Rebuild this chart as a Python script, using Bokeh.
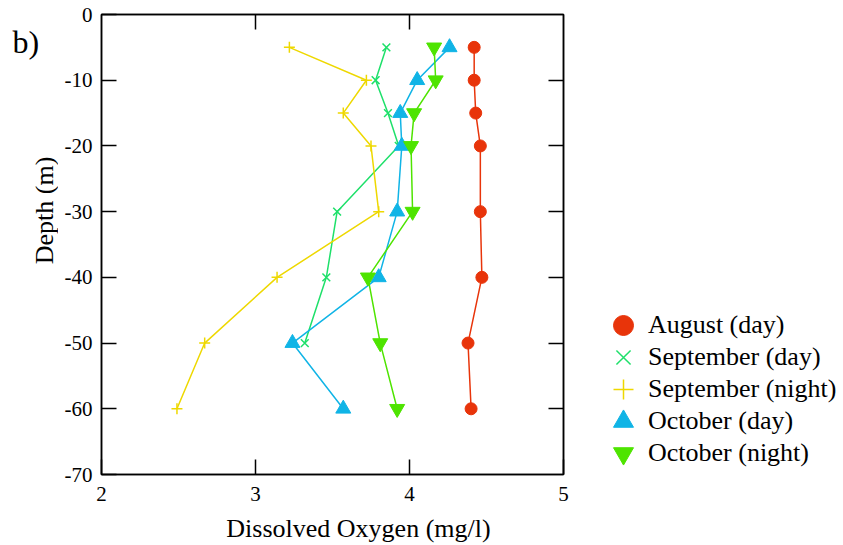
import math
from bokeh.plotting import figure
from bokeh.layouts import row, column
from bokeh.models import (Range1d, LinearAxis, FixedTicker, Legend, LegendItem, Label)
from bokeh.embed import file_html
from bokeh.resources import INLINE

depth = [-5, -10, -15, -20, -30, -40, -50, -60]
aug_day = [4.42, 4.42, 4.43, 4.46, 4.46, 4.47, 4.38, 4.40]
sep_day_depth = [-5, -10, -15, -20, -30, -40, -50]
sep_day = [3.85, 3.78, 3.86, 3.93, 3.53, 3.46, 3.32]
sep_night = [3.22, 3.72, 3.57, 3.75, 3.80, 3.14, 2.67, 2.49]
oct_day = [4.26, 4.05, 3.94, 3.95, 3.92, 3.80, 3.24, 3.57]
oct_night = [4.16, 4.17, 4.03, 4.01, 4.02, 3.73, 3.81, 3.92]

series_names = ["August (day)", "September (day)", "September (night)",
                "October (day)", "October (night)"]
x_ticks = [2, 3, 4, 5]
y_ticks = [0, -10, -20, -30, -40, -50, -60, -70]

FONT = "Liberation Serif"
RED = "#e8340a"
SEPD = "#1ee06a"
SEPN = "#eed800"
OCTD = "#10b4e6"
OCTN = "#4ee400"

H = 512                       # height of the main row
HB = 33                       # height of the bottom strip with the x title
TOP, BOTTOM = 14, 38          # borders shared by all three panels in the row

# ---------- left strip: panel letter + y title ----------
p0 = figure(width=58, height=H, output_backend="svg", toolbar_location=None,
            x_range=Range1d(0, 58), y_range=Range1d(BOTTOM, H - TOP),
            x_axis_type=None, y_axis_type=None, min_border=0,
            min_border_top=TOP, min_border_bottom=BOTTOM)
p0.grid.visible = False
p0.outline_line_color = None
p0.add_layout(Label(x=12, y=H - 41, text="b)", text_font=FONT, text_font_size="32px",
                    text_baseline="middle", text_align="left", text_color="black"))
p0.add_layout(Label(x=44, y=H - 210, text="Depth (m)", angle=math.pi / 2,
                    text_font=FONT, text_font_size="26px",
                    text_baseline="middle", text_align="center", text_color="black"))

# ---------- main plot ----------
p = figure(width=527, height=H, output_backend="svg", toolbar_location=None,
           x_range=Range1d(2, 5), y_range=Range1d(-70, 0),
           min_border_left=43, min_border_right=22, min_border_top=TOP, min_border_bottom=BOTTOM)
p.grid.visible = False
p.outline_line_color = "black"
p.outline_line_width = 1.5

for ax in (p.xaxis[0], p.yaxis[0]):
    ax.major_tick_in = 15
    ax.major_tick_out = 0
    ax.minor_tick_line_color = None
    ax.axis_line_color = "black"
    ax.axis_line_width = 1.5
    ax.major_tick_line_width = 1.5
    ax.major_label_text_font = FONT
    ax.major_label_text_font_size = "21px"
    ax.major_label_text_color = "black"

p.xaxis[0].ticker = FixedTicker(ticks=x_ticks)
p.yaxis[0].ticker = FixedTicker(ticks=y_ticks)
p.yaxis[0].major_label_overrides = {t: str(t) for t in y_ticks}
p.xaxis[0].major_label_standoff = 12
p.yaxis[0].major_label_standoff = 9

top = LinearAxis(ticker=FixedTicker(ticks=[3, 4]),
                 major_label_overrides={3: "", 4: ""},
                 major_tick_in=15, major_tick_out=0, minor_tick_line_color=None,
                 major_tick_line_width=1.5, axis_line_width=1.5, major_label_standoff=0)
right = LinearAxis(ticker=FixedTicker(ticks=y_ticks[1:-1]),
                   major_label_overrides={t: "" for t in y_ticks[1:-1]},
                   major_tick_in=15, major_tick_out=0, minor_tick_line_color=None,
                   major_tick_line_width=1.5, axis_line_width=1.5, major_label_standoff=0)
p.add_layout(top, "above")
p.add_layout(right, "right")

p.line(aug_day, depth, line_color=RED, line_width=1.5)
p.scatter(aug_day, depth, marker="circle", size=12, fill_color=RED, line_color=RED)

p.line(sep_day, sep_day_depth, line_color=SEPD, line_width=1.5)
p.scatter(sep_day, sep_day_depth, marker="x", size=11, line_color=SEPD, line_width=1.5)

p.line(sep_night, depth, line_color=SEPN, line_width=1.5)
p.scatter(sep_night, depth, marker="cross", size=11, line_color=SEPN, line_width=1.5)

p.line(oct_day, depth, line_color=OCTD, line_width=1.5)
p.scatter(oct_day, depth, marker="triangle", size=15, fill_color=OCTD, line_color=OCTD)

p.line(oct_night, depth, line_color=OCTN, line_width=1.5)
p.scatter(oct_night, depth, marker="inverted_triangle", size=15, fill_color=OCTN, line_color=OCTN)

# ---------- legend strip ----------
p2 = figure(width=258, height=H, output_backend="svg", toolbar_location=None,
            x_range=Range1d(0, 1), y_range=Range1d(0, 1),
            x_axis_type=None, y_axis_type=None, min_border=0,
            min_border_top=TOP, min_border_bottom=BOTTOM)
p2.grid.visible = False
p2.outline_line_color = None
styles = [dict(marker="circle", fill_color=RED, line_color=RED),
          dict(marker="x", line_color=SEPD, line_width=1.5),
          dict(marker="cross", line_color=SEPN, line_width=1.5),
          dict(marker="triangle", fill_color=OCTD, line_color=OCTD),
          dict(marker="inverted_triangle", fill_color=OCTN, line_color=OCTN)]
firsts = [(aug_day[0], depth[0]), (sep_day[0], sep_day_depth[0]), (sep_night[0], depth[0]),
          (oct_day[0], depth[0]), (oct_night[0], depth[0])]
for i, (name, st, (fx, fy)) in enumerate(zip(series_names, styles, firsts)):
    r = p2.scatter(x=[fx], y=[fy], visible=False, **st)
    center_from_top = 325 + 32 * i
    lg = Legend(items=[LegendItem(label=name, renderers=[r])],
                location=(13, (H - BOTTOM) - (center_from_top + 25)), border_line_color=None,
                background_fill_alpha=0, label_text_font=FONT, label_text_font_size="26px",
                label_text_color="black", glyph_width=50, glyph_height=50, spacing=0,
                label_standoff=0, padding=0, margin=0, label_height=32)
    p2.add_layout(lg, "center")

# ---------- bottom strip: x title ----------
p3 = figure(width=843, height=HB, output_backend="svg", toolbar_location=None,
            x_range=Range1d(0, 843), y_range=Range1d(0, HB),
            x_axis_type=None, y_axis_type=None, min_border=0)
p3.grid.visible = False
p3.outline_line_color = None
p3.add_layout(Label(x=358, y=HB - (528 - H), text="Dissolved Oxygen (mg/l)",
                    text_font=FONT, text_font_size="26px",
                    text_baseline="middle", text_align="center", text_color="black"))

open("out.html", "w").write(file_html(column(row(p0, p, p2), p3), INLINE))
